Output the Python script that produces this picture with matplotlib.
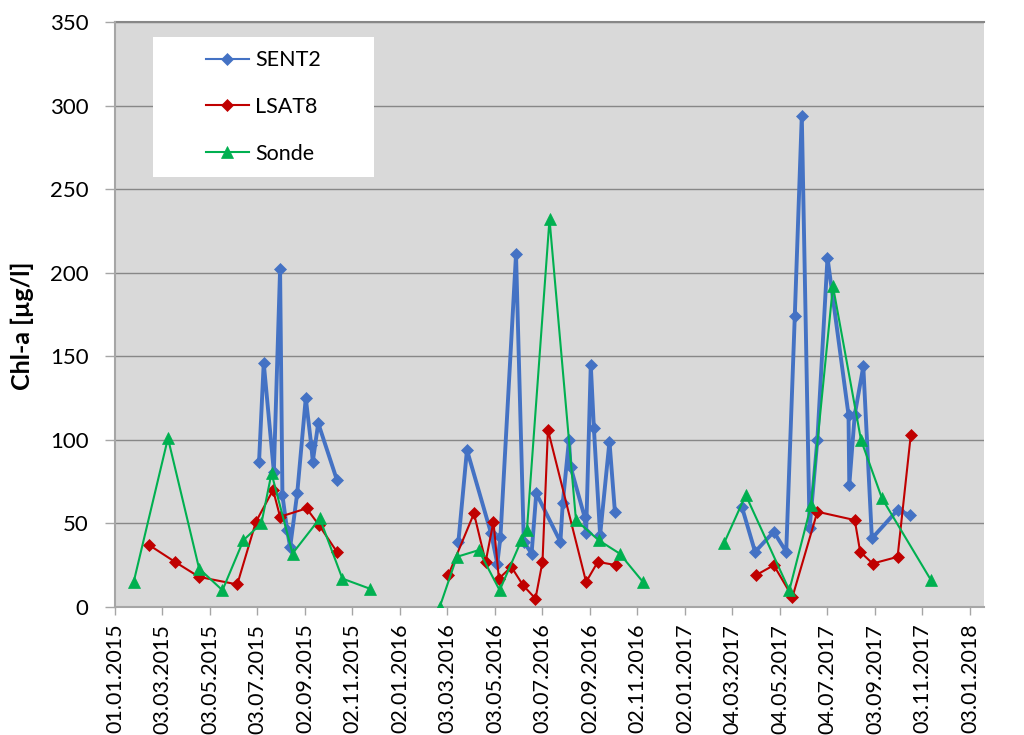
import matplotlib
matplotlib.use("Agg")
import matplotlib.pyplot as plt
import matplotlib.dates as mdates
from matplotlib.patches import Rectangle
from matplotlib.ticker import FixedLocator, FixedFormatter
import pandas as pd

plt.rcParams['font.family'] = ['Lato', 'DejaVu Sans']

# ---------------- data ----------------
sent2_dates = [
    "2015-07-05", "2015-07-11", "2015-07-24", "2015-08-01", "2015-08-04", "2015-08-10",
    "2015-08-14", "2015-08-23", "2015-09-03", "2015-09-10", "2015-09-12", "2015-09-19",
    "2015-10-13",
    "2016-03-17", "2016-03-28", "2016-04-28", "2016-05-06", "2016-05-10", "2016-05-30",
    "2016-06-09", "2016-06-19", "2016-06-25", "2016-07-26", "2016-07-29", "2016-08-06",
    "2016-08-08", "2016-08-26", "2016-08-28", "2016-09-03", "2016-09-07", "2016-09-15",
    "2016-09-27", "2016-10-04",
    "2017-03-16", "2017-04-02", "2017-04-26", "2017-05-12", "2017-05-23", "2017-06-01",
    "2017-06-11", "2017-06-21", "2017-07-04", "2017-07-31", "2017-08-01", "2017-08-08",
    "2017-08-19", "2017-08-30", "2017-10-02", "2017-10-18",
]
sent2_values = [
    87, 146, 81, 202, 67, 46, 36, 68, 125, 97, 87, 110, 76,
    39, 94, 44, 26, 42, 211, 39, 32, 68, 39, 62, 100, 84, 54, 44, 145, 107, 43, 99, 57,
    60, 33, 45, 33, 174, 294, 47, 100, 209, 115, 73, 115, 144, 41, 58, 55,
]
# gaps between seasons (no line drawn across years)
sent2_season = [2015] * 13 + [2016] * 20 + [2017] * 16

lsat8_dates = [
    "2015-02-14", "2015-03-19", "2015-04-19", "2015-06-07", "2015-07-01", "2015-07-23",
    "2015-08-01", "2015-09-04", "2015-09-20", "2015-10-13",
    "2016-03-04", "2016-04-06", "2016-04-21", "2016-05-01", "2016-05-08", "2016-05-24",
    "2016-06-08", "2016-06-24", "2016-07-03", "2016-07-10", "2016-08-28", "2016-09-12",
    "2016-10-06",
    "2017-04-03", "2017-04-26", "2017-05-20", "2017-06-21", "2017-08-08", "2017-08-15",
    "2017-08-31", "2017-10-02", "2017-10-19",
]
lsat8_values = [
    37, 27, 18, 13.5, 51, 70, 54, 59, 49, 33,
    19, 56, 27, 51, 17, 24, 13, 5, 27, 106, 15, 27, 25,
    19, 25, 6, 57, 52, 33, 26, 30, 103,
]
lsat8_season = [2015] * 10 + [2016] * 13 + [2017] * 9

sonde_dates = [
    "2015-01-25", "2015-03-10", "2015-04-19", "2015-05-19", "2015-06-15", "2015-07-08",
    "2015-07-21", "2015-08-17", "2015-09-21", "2015-10-20", "2015-11-24",
    "2016-02-22", "2016-03-15", "2016-04-12", "2016-05-09", "2016-06-06", "2016-06-13",
    "2016-07-12", "2016-08-15", "2016-09-13", "2016-10-10", "2016-11-09",
    "2017-02-21", "2017-03-21", "2017-05-16", "2017-06-13", "2017-07-11", "2017-08-16",
    "2017-09-12", "2017-11-14",
]
sonde_values = [
    15, 101, 23, 10, 40, 50, 80, 32, 53, 17, 11,
    0, 30, 34, 10, 40, 46, 232, 52, 40, 32, 15,
    38, 67, 10, 61, 192, 100, 65, 16,
]
sonde_season = [2015] * 11 + [2016] * 11 + [2017] * 8

x_tick_labels = [
    "01.01.2015", "03.03.2015", "03.05.2015", "03.07.2015", "02.09.2015", "02.11.2015",
    "02.01.2016", "03.03.2016", "03.05.2016", "03.07.2016", "02.09.2016", "02.11.2016",
    "02.01.2017", "04.03.2017", "04.05.2017", "04.07.2017", "03.09.2017", "03.11.2017",
    "03.01.2018",
]
y_ticks = [0, 50, 100, 150, 200, 250, 300, 350]

series_names = ["SENT2", "LSAT8", "Sonde"]
colors = ["#4472C4", "#C00000", "#00B050"]

# ---------------- figure ----------------
W, H = 1024, 735
fig = plt.figure(figsize=(W / 100, H / 100), dpi=100)
L, R, T, B = 115, 984, 22, 607
ax = fig.add_axes([L / W, 1 - B / H, (R - L) / W, (B - T) / H])
ax.set_facecolor("#D9D9D9")

def draw(dates, values, seasons, color, marker, ms, lw, z, label):
    df = pd.DataFrame({"d": pd.to_datetime(dates), "v": values, "s": seasons})
    first = True
    for s, g in df.groupby("s"):
        ax.plot(g["d"], g["v"], color=color, marker=marker, markersize=ms,
                linewidth=lw, zorder=z, label=label if first else None,
                markeredgewidth=0.5, markeredgecolor=color)
        first = False

draw(sent2_dates, sent2_values, sent2_season, colors[0], "D", 6.5, 2.8, 3, series_names[0])
draw(lsat8_dates, lsat8_values, lsat8_season, colors[1], "D", 6.5, 1.5, 4, series_names[1])
draw(sonde_dates, sonde_values, sonde_season, colors[2], "^", 8.0, 1.5, 5, series_names[2])

# axes limits & ticks
tick_dates = pd.to_datetime(x_tick_labels, format="%d.%m.%Y")
x0 = tick_dates[0]
ax.set_xlim(mdates.date2num(x0), mdates.date2num(x0) + 1116)
ax.set_ylim(0, 350)
ax.xaxis.set_major_locator(FixedLocator(mdates.date2num(tick_dates)))
ax.xaxis.set_major_formatter(FixedFormatter(x_tick_labels))
ax.set_yticks(y_ticks)

ax.tick_params(axis="x", labelrotation=90, labelsize=15.5, length=6, width=1,
               color="#A6A6A6", pad=6, direction="out")
ax.tick_params(axis="y", labelsize=16, length=7, width=1, color="#A6A6A6",
               pad=12, direction="out")

ax.grid(axis="y", color="#878787", linewidth=1.0, zorder=1)
ax.set_axisbelow(True)
for s in ["top", "right"]:
    ax.spines[s].set_visible(False)
ax.spines["left"].set_color("#A6A6A6")
ax.spines["left"].set_linewidth(1.5)
ax.spines["bottom"].set_color("#A6A6A6")
ax.spines["bottom"].set_linewidth(1.5)
ax.axhline(350, color="#878787", linewidth=1.5, zorder=1, clip_on=False)

ax.set_ylabel("Chl-a [µg/l]", fontsize=18, fontweight="bold")
ax.yaxis.set_label_coords((34 - L) / (R - L), (B - 326) / (B - T))

# legend with white box
lx0, lx1, ly0, ly1 = 153, 374, 37, 177
rect = Rectangle((lx0 / W, 1 - ly1 / H), (lx1 - lx0) / W, (ly1 - ly0) / H,
                 transform=fig.transFigure, facecolor="white", edgecolor="none", zorder=6)
ax.add_artist(rect)
leg = ax.legend(loc="center", bbox_to_anchor=((lx0 + lx1) / 2 / W, 1 - (ly0 + ly1) / 2 / H),
                bbox_transform=fig.transFigure, frameon=False, fontsize=15.5,
                handlelength=2.0, handletextpad=0.3, labelspacing=1.25)
leg.set_zorder(7)
for h in leg.legend_handles:
    h.set_linewidth(1.5)

fig.savefig("out.png", dpi=100)
